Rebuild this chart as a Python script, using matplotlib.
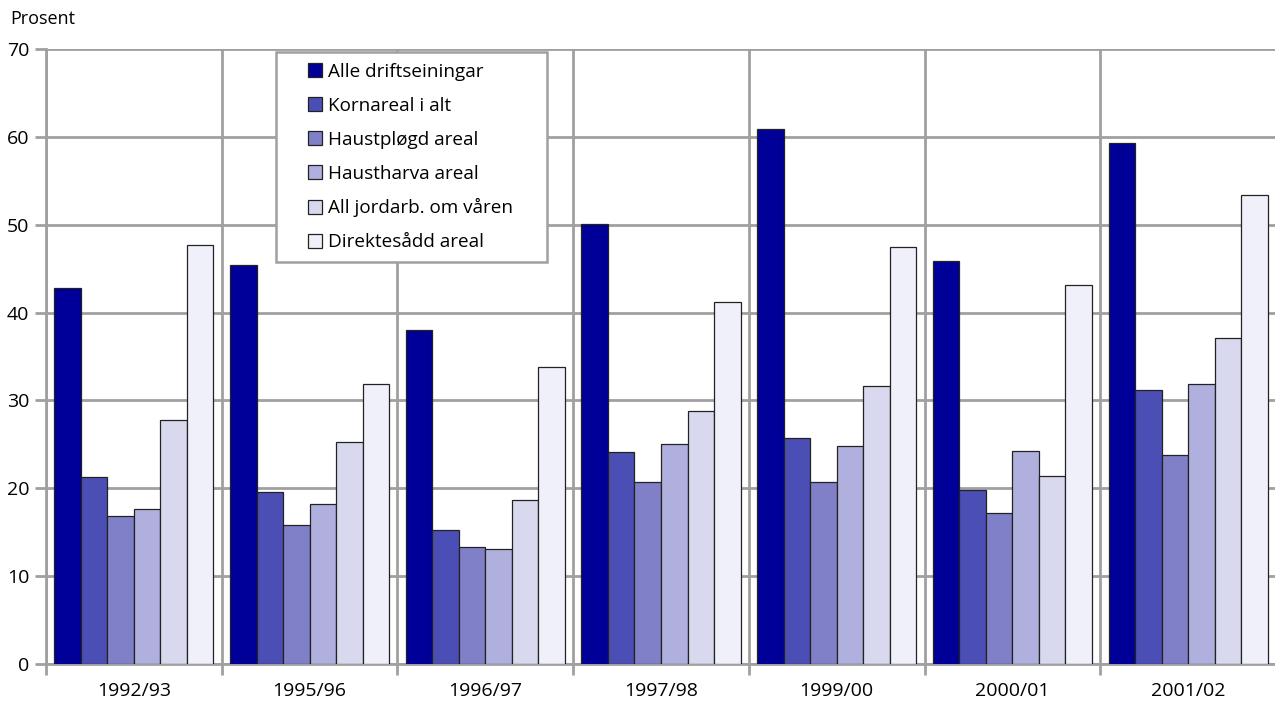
import numpy as np
import matplotlib
matplotlib.use('Agg')
import matplotlib.pyplot as plt
from matplotlib.patches import Rectangle

plt.rcParams['font.family'] = ['Open Sans', 'DejaVu Sans']

years = ['1992/93', '1995/96', '1996/97', '1997/98', '1999/00', '2000/01', '2001/02']
series_names = ['Alle driftseiningar', 'Kornareal i alt', 'Haustpløgd areal',
                'Haustharva areal', 'All jordarb. om våren', 'Direktesådd areal']
alle = [42.8, 45.4, 38.0, 50.1, 60.9, 45.9, 59.3]
korn = [21.3, 19.6, 15.3, 24.1, 25.7, 19.8, 31.2]
haustplogd = [16.9, 15.8, 13.3, 20.7, 20.7, 17.2, 23.8]
haustharva = [17.6, 18.2, 13.1, 25.0, 24.8, 24.3, 31.9]
jordarb = [27.8, 25.3, 18.7, 28.8, 31.6, 21.4, 37.1]
direkte = [47.7, 31.9, 33.8, 41.2, 47.5, 43.1, 53.4]
colors = ['#000099', '#4b4fb5', '#8080c8', '#b0b0de', '#d8d8ee', '#f0f0fa']

values = [alle, korn, haustplogd, haustharva, jordarb, direkte]

W, H = 1275, 706
fig = plt.figure(figsize=(W / 100, H / 100), dpi=100)
ax = fig.add_axes([46 / W, 1 - 664 / H, (1276 - 46) / W, (664 - 49) / H])

x = np.arange(len(years))
bw = 0.151
for i, (vals, col, name) in enumerate(zip(values, colors, series_names)):
    ax.bar(x + (i - 2.5) * bw, vals, width=bw, color=col, edgecolor='#222222',
           linewidth=0.9, label=name, zorder=3)

grid_c = '#a0a0a0'
ax.set_xlim(-0.5, len(years) - 0.5)
ax.set_ylim(0, 70)
ax.set_yticks(range(0, 71, 10))
ax.set_xticks(x)
ax.set_xticklabels(years)
ax.set_xticks(np.arange(-0.5, len(years)), minor=True)
ax.tick_params(axis='x', which='major', length=0, pad=13, labelsize=14)
ax.tick_params(axis='x', which='minor', length=8, width=2, color=grid_c)
ax.tick_params(axis='y', length=8, width=2, color=grid_c, pad=4, labelsize=14)
ax.grid(axis='y', color=grid_c, linewidth=2, zorder=0)
ax.grid(axis='x', which='minor', color=grid_c, linewidth=2, zorder=0)
ax.set_axisbelow(True)
for s in ax.spines.values():
    s.set_color(grid_c)
    s.set_linewidth(2)
ax.spines['top'].set_visible(False)
ax.spines['right'].set_visible(False)

fig.text(10 / W, 1 - 19 / H, 'Prosent', fontsize=13, va='center', ha='left')

# legend box drawn separately (uneven padding in the original)
fig.patches.append(Rectangle((276 / W, 1 - 262 / H), (547 - 276) / W, (262 - 52) / H,
                             transform=fig.transFigure, facecolor='white',
                             edgecolor=grid_c, linewidth=1.8, zorder=5))
leg = fig.legend(loc='upper left', bbox_to_anchor=(308 / W, 1 - 63 / H),
                 frameon=False, fontsize=13.6, handlelength=0.75, handleheight=0.75,
                 handletextpad=0.3, labelspacing=0.84, borderpad=0, borderaxespad=0)
leg.set_zorder(6)

fig.savefig('out.png', dpi=100)
